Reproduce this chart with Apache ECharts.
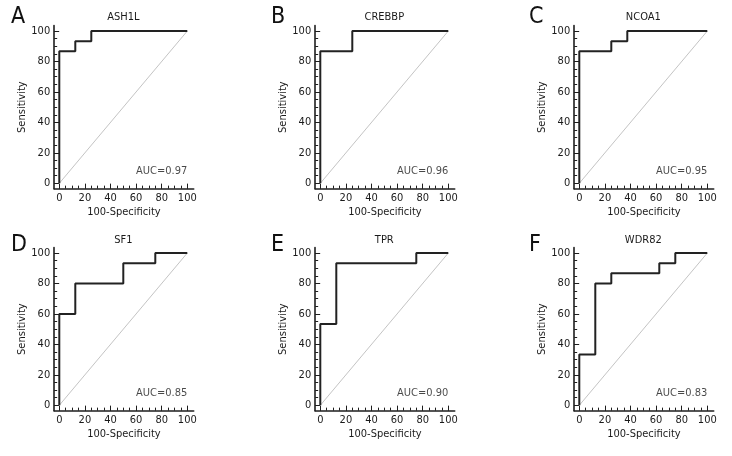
<!DOCTYPE html>
<html>
<head>
<meta charset="utf-8">
<script src="https://cdn.jsdelivr.net/npm/echarts@6/dist/echarts.min.js"></script>
<style>html,body{margin:0;padding:0;background:#fff;}#chart{width:732px;height:456px;}</style>
</head>
<body>
<div id="chart"></div>
<script>
// ---- data ----
const panelLetters = ['A', 'B', 'C', 'D', 'E', 'F'];
const geneNames = ['ASH1L', 'CREBBP', 'NCOA1', 'SF1', 'TPR', 'WDR82'];
const aucValues = ['0.97', '0.96', '0.95', '0.85', '0.90', '0.83'];
// ROC vertices (100-Specificity, Sensitivity)
const rocX_ASH1L  = [0, 0, 12.5, 25, 100];
const rocY_ASH1L  = [0, 86.7, 93.3, 100, 100];
const rocX_CREBBP = [0, 0, 25, 100];
const rocY_CREBBP = [0, 86.7, 100, 100];
const rocX_NCOA1  = [0, 0, 25, 37.5, 100];
const rocY_NCOA1  = [0, 86.7, 93.3, 100, 100];
const rocX_SF1    = [0, 0, 12.5, 50, 75, 100];
const rocY_SF1    = [0, 60, 80, 93.3, 100, 100];
const rocX_TPR    = [0, 0, 12.5, 75, 100];
const rocY_TPR    = [0, 53.3, 93.3, 100, 100];
const rocX_WDR82  = [0, 0, 12.5, 25, 62.5, 75, 100];
const rocY_WDR82  = [0, 33.3, 80, 86.7, 93.3, 100, 100];
const tickLabels = [0, 20, 40, 60, 80, 100];
const minorTickValues = [0, 5, 10, 15, 20, 25, 30, 35, 40, 45, 50, 55, 60, 65, 70, 75, 80, 85, 90, 95, 100];
const diagX = [0, 100];
const diagY = [0, 100];
const aucLabelPos = [100, 8];

const rocXs = [rocX_ASH1L, rocX_CREBBP, rocX_NCOA1, rocX_SF1, rocX_TPR, rocX_WDR82];
const rocYs = [rocY_ASH1L, rocY_CREBBP, rocY_NCOA1, rocY_SF1, rocY_TPR, rocY_WDR82];

// ---- layout ----
const FONT = "'DejaVu Sans Condensed','Liberation Sans Narrow',sans-serif";
const FS = 11;
const colX0 = [59.3, 320.3, 579.3];
const rowY100 = [31, 253];
const pxX = 1.28, pxY = 1.523;
const xMin = -4, xMax = 105, yMin = -3.5, yMax = 103.5;
const letterLeft = [11, 271, 529];
const letterTop = [6, 234];
const nameTop = [12, 234.5];
const axisColor = '#1e1e1e';
const textColor = '#1a1a1a';

const grids = [], xAxes = [], yAxes = [], series = [], titles = [];

for (let i = 0; i < 6; i++) {
  const c = i % 3, r = Math.floor(i / 3);
  const x0 = colX0[c], y100 = rowY100[r];
  grids.push({
    left: x0 + xMin * pxX,
    top: y100 - (yMax - 100) * pxY,
    width: (xMax - xMin) * pxX,
    height: (yMax - yMin) * pxY,
    containLabel: false
  });
  // main x axis
  xAxes.push({
    type: 'value', gridIndex: i, min: xMin, max: xMax, position: 'bottom',
    axisLine: { onZero: false, lineStyle: { color: axisColor, width: 1.6 } },
    axisTick: { show: true, inside: true, length: 5, customValues: tickLabels, lineStyle: { color: axisColor, width: 1 } },
    axisLabel: { customValues: tickLabels, margin: 4, fontSize: FS, color: textColor, fontFamily: FONT },
    splitLine: { show: false },
    name: '100-Specificity', nameLocation: 'middle', nameGap: 18,
    nameTextStyle: { fontSize: FS, color: textColor, fontFamily: FONT }
  });
  // minor x ticks
  xAxes.push({
    type: 'value', gridIndex: i, min: xMin, max: xMax, position: 'bottom', offset: 0,
    axisLine: { show: false, onZero: false },
    axisTick: { show: true, inside: true, length: 3, customValues: minorTickValues, lineStyle: { color: axisColor, width: 1 } },
    axisLabel: { show: false },
    splitLine: { show: false }
  });
  yAxes.push({
    type: 'value', gridIndex: i, min: yMin, max: yMax, position: 'left',
    axisLine: { show: true, onZero: false, lineStyle: { color: axisColor, width: 1.6 } },
    axisTick: { show: true, inside: true, length: 5, customValues: tickLabels, lineStyle: { color: axisColor, width: 1 } },
    axisLabel: { customValues: tickLabels, margin: 4, fontSize: FS, color: textColor, fontFamily: FONT },
    splitLine: { show: false },
    name: 'Sensitivity', nameLocation: 'middle', nameGap: 25,
    nameTextStyle: { fontSize: FS, color: textColor, fontFamily: FONT }
  });
  yAxes.push({
    type: 'value', gridIndex: i, min: yMin, max: yMax, position: 'left', offset: 0,
    axisLine: { show: false, onZero: false },
    axisTick: { show: true, inside: true, length: 3, customValues: minorTickValues, lineStyle: { color: axisColor, width: 1 } },
    axisLabel: { show: false },
    splitLine: { show: false }
  });
  const xa = i * 2, ya = i * 2;
  series.push({
    type: 'line', xAxisIndex: xa, yAxisIndex: ya,
    data: diagX.map((v, k) => [v, diagY[k]]),
    symbol: 'none', silent: true,
    lineStyle: { color: '#c4c4c4', width: 1 }, z: 1
  });
  series.push({
    type: 'line', xAxisIndex: xa, yAxisIndex: ya,
    data: rocXs[i].map((v, k) => [v, rocYs[i][k]]),
    step: 'end', symbol: 'none', silent: true,
    lineStyle: { color: '#222', width: 2 }, z: 3
  });
  series.push({
    type: 'scatter', xAxisIndex: xa, yAxisIndex: ya,
    data: [aucLabelPos], symbolSize: 0, silent: true,
    label: {
      show: true, position: 'left', distance: 0,
      formatter: 'AUC=' + aucValues[i],
      fontSize: FS, color: textColor, fontFamily: FONT
    }
  });
  titles.push({
    text: geneNames[i], left: x0 + 50 * pxX, top: nameTop[r], textAlign: 'center', padding: 0,
    textStyle: { fontSize: FS, fontWeight: 'normal', color: textColor, fontFamily: FONT }
  });
  titles.push({
    text: panelLetters[i], left: letterLeft[c], top: letterTop[r], padding: 0,
    textStyle: { fontSize: 23, fontWeight: 'normal', color: '#111', fontFamily: FONT }
  });
}

const chart = echarts.init(document.getElementById('chart'), null, { renderer: 'canvas' });
chart.setOption({
  animation: false,
  backgroundColor: '#fff',
  title: titles,
  grid: grids,
  xAxis: xAxes,
  yAxis: yAxes,
  series: series
});
</script>
</body>
</html>
